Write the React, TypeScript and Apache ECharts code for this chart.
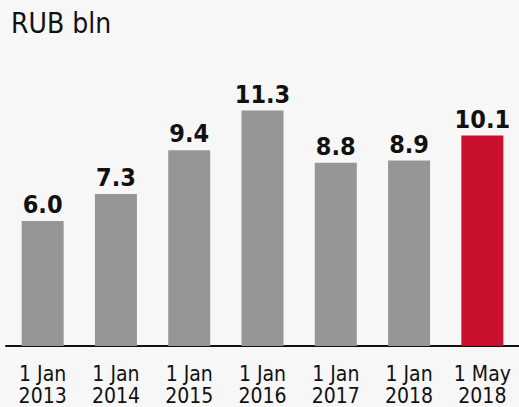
import React, { useEffect, useRef } from "react";
import * as echarts from "echarts";

const categories = ["1 Jan\n2013", "1 Jan\n2014", "1 Jan\n2015", "1 Jan\n2016", "1 Jan\n2017", "1 Jan\n2018", "1 May\n2018"];
const values = [6.0, 7.3, 9.4, 11.3, 8.8, 8.9, 10.1];
const highlightIndex = [6];
const unitTitle = "RUB bln";

const FONT = "'DejaVu Sans Condensed', 'DejaVu Sans', sans-serif";

export default function App() {
  const ref = useRef<HTMLDivElement>(null);
  useEffect(() => {
    if (!ref.current) return;
    const chart = echarts.init(ref.current, null, { renderer: "svg" });
    chart.setOption({
      animation: false,
      backgroundColor: "#f7f7f7",
      title: {
        text: unitTitle,
        left: 11,
        top: 9,
        padding: 0,
        textStyle: { fontFamily: FONT, fontSize: 28, fontWeight: "normal", color: "#111" },
      },
      grid: { left: 6, width: 518, top: 96, bottom: 59 },
      xAxis: {
        type: "category",
        data: categories,
        axisLine: { lineStyle: { color: "#111", width: 2 } },
        axisTick: { show: false },
        axisLabel: {
          interval: 0,
          margin: 17,
          fontFamily: FONT,
          fontSize: 21,
          lineHeight: 22,
          color: "#111",
        },
      },
      yAxis: {
        type: "value",
        min: 0,
        max: 12,
        show: false,
        splitLine: { show: false },
      },
      series: [
        {
          type: "bar",
          barWidth: 42,
          data: values.map((v, i) => ({
            value: v,
            itemStyle: { color: highlightIndex.includes(i) ? "#c8102e" : "#969696" },
          })),
          label: {
            show: true,
            position: "top",
            distance: 4,
            fontFamily: FONT,
            fontSize: 25,
            fontWeight: "bold",
            color: "#111",
            formatter: (p: any) => Number(p.value).toFixed(1),
          },
        },
      ],
    });
    return () => chart.dispose();
  }, []);
  return <div ref={ref} style={{ width: 519, height: 407, position: "fixed", left: 0, top: 0 }} />;
}
